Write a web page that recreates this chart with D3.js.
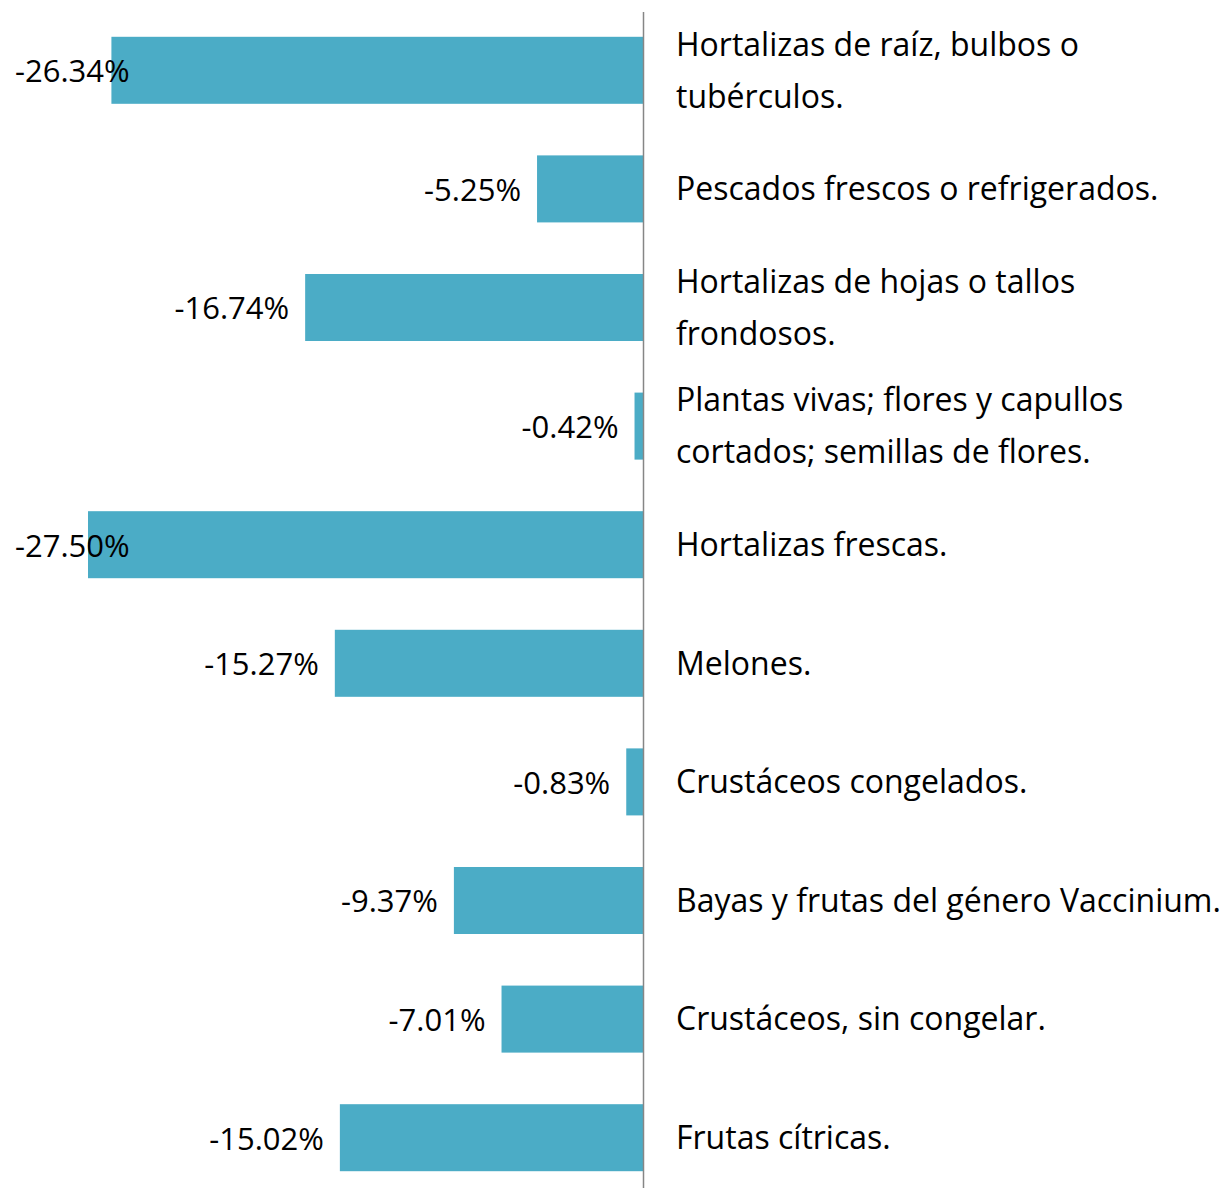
<!DOCTYPE html>
<html>
<head>
<meta charset="utf-8">
<script src="https://cdn.jsdelivr.net/npm/d3@7"></script>
<style>
  body { margin: 0; background: #fff; }
  svg text { font-family: "Open Sans", "Noto Sans", sans-serif; fill: #000; }
</style>
</head>
<body>
<svg id="chart"></svg>
<script>
// categories, top to bottom
var categories = [
    ["Hortalizas de raíz, bulbos o", "tubérculos."],
    ["Pescados frescos o refrigerados."],
    ["Hortalizas de hojas o tallos", "frondosos."],
    ["Plantas vivas; flores y capullos", "cortados; semillas de flores."],
    ["Hortalizas frescas."],
    ["Melones."],
    ["Crustáceos congelados."],
    ["Bayas y frutas del género Vaccinium."],
    ["Crustáceos, sin congelar."],
    ["Frutas cítricas."]
];
var values = [-26.34, -5.25, -16.74, -0.42, -27.50, -15.27, -0.83, -9.37, -7.01, -15.02];

(function() {
    var width = 1230, height = 1188;
    var svg = d3.select("#chart").attr("width", width).attr("height", height);

    var ids = d3.range(values.length);

    var x = d3.scaleLinear()
        .domain([-27.5, 0])
        .range([88, 643]);

    var y = d3.scaleBand()
        .domain(ids)
        .range([11, 1197])
        .paddingInner(0.435)
        .paddingOuter(0.2175);

    // bars
    svg.append("g").selectAll("rect")
        .data(ids)
        .enter()
        .append("rect")
        .attr("x", function(i) { return x(values[i]); })
        .attr("y", function(i) { return y(i); })
        .attr("width", function(i) { return x(0) - x(values[i]); })
        .attr("height", y.bandwidth())
        .attr("fill", "#4BACC6");

    // axis line
    svg.append("line")
        .attr("x1", x(0) + 0.5).attr("x2", x(0) + 0.5)
        .attr("y1", 12).attr("y2", height)
        .attr("stroke", "#868686")
        .attr("stroke-width", 1.5);

    // value labels, pushed inside when there's no room
    svg.append("g").selectAll("text")
        .data(ids)
        .enter()
        .append("text")
        .attr("font-size", 31)
        .attr("text-anchor", "end")
        .attr("dy", "0.35em")
        .attr("y", function(i) { return y(i) + y.bandwidth() / 2 + 1; })
        .text(function(i) { return values[i].toFixed(2) + "%"; })
        .attr("x", function(i) {
            var w = this.getComputedTextLength();
            return Math.max(x(values[i]) - 16, 15 + w);
        });

    // category labels right of the axis
    var lineH = 52;
    var labels = svg.append("g").selectAll("text")
        .data(ids)
        .enter()
        .append("text")
        .attr("font-size", 32)
        .attr("x", 676)
        .attr("y", function(i) {
            var n = categories[i].length;
            return y(i) + y.bandwidth() / 2 - (n - 1) * lineH / 2;
        });

    labels.selectAll("tspan")
        .data(function(i) { return categories[i]; })
        .enter()
        .append("tspan")
        .attr("x", 676)
        .attr("dy", function(d, k) { return k === 0 ? "0.35em" : lineH; })
        .text(function(d) { return d; });
})();
</script>
</body>
</html>
